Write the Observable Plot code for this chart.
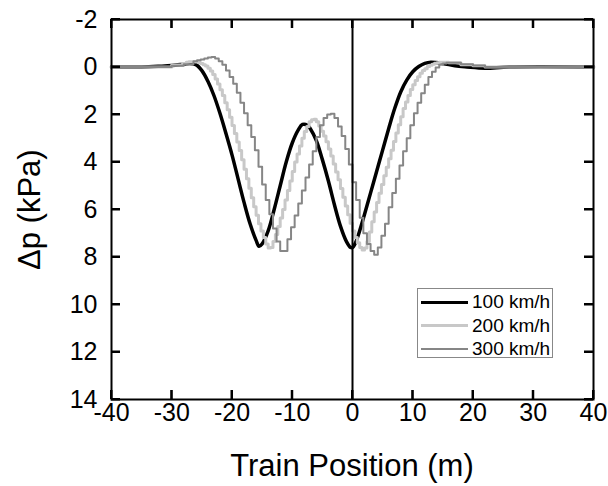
<!DOCTYPE html>
<html>
<head>
<meta charset="utf-8">
<script src="https://cdn.jsdelivr.net/npm/d3@7"></script>
<script src="https://cdn.jsdelivr.net/npm/@observablehq/plot@0.6"></script>
<style>
  html, body { margin: 0; padding: 0; background: #fff; }
  #wrap { position: relative; width: 608px; height: 486px; font-family: "Liberation Sans", Arial, sans-serif; }
  #wrap > svg { position: absolute; left: 0; top: 0; }
  .xtitle { position: absolute; left: 111px; width: 482px; top: 448px; text-align: center; font-size: 31px; line-height: 36px; color: #000; }
  .ytitle { position: absolute; left: -30px; width: 120px; top: 192px; height: 36px; transform: rotate(-90deg); text-align: center; font-size: 31px; line-height: 36px; white-space: nowrap; color: #000; }
  .legend { position: absolute; left: 417px; top: 288px; width: 136px; height: 70px; border: 1px solid #888; background: #fff; box-sizing: border-box; }
  .legend .row { position: absolute; left: 3px; height: 22px; display: flex; align-items: center; }
  .legend .sw { width: 47px; margin-right: 4px; }
  .legend .lab { font-size: 19px; line-height: 22px; color: #000; }
</style>
</head>
<body>
<div id="wrap"></div>
<script>
const xDomain = [-40, 40];
const yDomain = [-2, 14];
const xTicks = [-40, -30, -20, -10, 0, 10, 20, 30, 40];
const yTicks = [-2, 0, 2, 4, 6, 8, 10, 12, 14];
const seriesNames = ["100 km/h", "200 km/h", "300 km/h"];
const seriesColors = ["#000000", "#c8c8c8", "#868686"];
const seriesWidths = [3.5, 3, 2];
const xLabel = "Train Position (m)";
const yLabel = "Δp (kPa)";
const trainAt = [0];

const pts100 = [[-40,0],[-35,0],[-32,-0.03],[-30,-0.06],[-28,-0.12],[-27,-0.15],[-26,-0.1],[-25,0.15],[-24,0.6],[-23,1.2],[-22,1.95],[-21,2.8],[-20,3.7],[-19,4.7],[-18,5.7],[-17,6.6],[-16,7.3],[-15.5,7.55],[-15,7.45],[-14,6.9],[-13,6.0],[-12,5.0],[-11,4.0],[-10,3.2],[-9,2.65],[-8.3,2.42],[-7.5,2.45],[-7,2.6],[-6,3.1],[-5,3.9],[-4,4.8],[-3,5.8],[-2,6.7],[-1,7.35],[-0.3,7.6],[0,7.6],[0.5,7.4],[1,7.05],[2,6.2],[3,5.3],[4,4.4],[5,3.5],[6,2.6],[7,1.75],[8,1.05],[9,0.55],[10,0.2],[11,-0.02],[12,-0.15],[13,-0.2],[15,-0.15],[17,-0.05],[19,0],[22,0.05],[26,0],[40,0]];

const pts200 = [[-40,0],[-33,0],[-30,-0.08],[-28.2,-0.15],[-27.6,-0.2],[-27.2,-0.22],[-26.8,-0.22],[-26.4,-0.22],[-26.0,-0.21],[-25.6,-0.19],[-25.2,-0.15],[-24.8,-0.1],[-24.4,-0.04],[-24.0,0.05],[-23.6,0.17],[-23.2,0.32],[-22.8,0.5],[-22.4,0.72],[-22.0,0.96],[-21.6,1.2],[-21.2,1.5],[-20.8,1.8],[-20.4,2.12],[-20.0,2.46],[-19.6,2.8],[-19.2,3.16],[-18.8,3.52],[-18.4,3.9],[-18.0,4.3],[-17.6,4.7],[-17.2,5.1],[-16.8,5.5],[-16.4,5.88],[-16.0,6.24],[-15.6,6.6],[-15.2,6.9],[-14.8,7.18],[-14.4,7.45],[-14.0,7.62],[-13.6,7.6],[-13.2,7.35],[-12.8,7.05],[-12.4,6.72],[-12.0,6.36],[-11.6,6.0],[-11.2,5.6],[-10.8,5.2],[-10.4,4.8],[-10.0,4.4],[-9.6,4.0],[-9.2,3.66],[-8.8,3.33],[-8.4,3.0],[-8.0,2.72],[-7.6,2.5],[-7.2,2.3],[-6.8,2.22],[-6.4,2.2],[-6.0,2.3],[-5.6,2.48],[-5.2,2.7],[-4.8,2.9],[-4.4,3.15],[-4.0,3.45],[-3.6,3.75],[-3.2,4.08],[-2.8,4.42],[-2.4,4.75],[-2.0,5.12],[-1.6,5.48],[-1.2,5.85],[-0.8,6.22],[-0.4,6.58],[0.0,6.9],[0.4,7.18],[0.8,7.4],[1.2,7.6],[1.6,7.7],[2.0,7.62],[2.4,7.35],[2.8,6.95],[3.2,6.52],[3.6,6.1],[4.0,5.7],[4.4,5.32],[4.8,4.95],[5.2,4.58],[5.6,4.22],[6.0,3.86],[6.4,3.5],[6.8,3.14],[7.2,2.78],[7.6,2.43],[8.0,2.09],[8.4,1.75],[8.8,1.47],[9.2,1.2],[9.6,0.95],[10.0,0.75],[10.4,0.57],[10.8,0.41],[11.2,0.26],[11.6,0.15],[12.0,0.07],[12.4,-0.02],[12.8,-0.07],[13.2,-0.12],[13.6,-0.16],[14.0,-0.18],[14.4,-0.2],[16,-0.18],[18,-0.1],[20,-0.05],[22,0],[40,0]];

const pts300 = [[-40,0],[-33,0],[-30,-0.05],[-28,-0.12],[-26.4,-0.24],[-25.8,-0.28],[-25.2,-0.32],[-24.6,-0.36],[-24.0,-0.4],[-23.4,-0.42],[-22.8,-0.36],[-22.2,-0.24],[-21.6,-0.1],[-21.0,0.15],[-20.4,0.42],[-19.8,0.7],[-19.2,1.08],[-18.6,1.5],[-18.0,1.95],[-17.4,2.45],[-16.8,2.95],[-16.2,3.5],[-15.6,4.2],[-15.0,4.95],[-14.4,5.6],[-13.8,6.2],[-13.2,6.8],[-12.6,7.35],[-12.0,7.75],[-11.4,7.75],[-10.8,7.25],[-10.2,6.75],[-9.6,6.25],[-9.0,5.75],[-8.4,5.2],[-7.8,4.65],[-7.2,4.1],[-6.6,3.55],[-6.0,2.95],[-5.4,2.45],[-4.8,2.15],[-4.2,2.0],[-3.6,1.97],[-3.0,2.15],[-2.4,2.5],[-1.8,2.9],[-1.2,3.45],[-0.6,4.1],[0.0,4.85],[0.6,5.6],[1.2,6.35],[1.8,7.0],[2.4,7.45],[3.0,7.75],[3.6,7.9],[4.2,7.6],[4.8,7.1],[5.4,6.6],[6.0,5.9],[6.6,5.3],[7.2,4.7],[7.8,4.15],[8.4,3.55],[9.0,3.0],[9.6,2.45],[10.2,1.95],[10.8,1.5],[11.4,1.1],[12.0,0.75],[12.6,0.42],[13.2,0.2],[13.8,0.02],[14.4,-0.1],[15.0,-0.15],[15.6,-0.18],[16.2,-0.18],[18,-0.12],[20,-0.06],[22,0],[40,0]];

const toRows = pts => pts.map(([x, y]) => ({x, y}));
const d100 = toRows(pts100), d200 = toRows(pts200), d300 = toRows(pts300);

const W = 608, H = 486, mL = 111, mR = 15, mT = 19, mB = 87;
const tickLen = 9;
const innerW = W - mL - mR, innerH = H - mT - mB;
const ty = (yDomain[1] - yDomain[0]) * tickLen / innerH;
const tx = (xDomain[1] - xDomain[0]) * tickLen / innerW;

const chart = Plot.plot({
  width: W,
  height: H,
  marginLeft: mL,
  marginRight: mR,
  marginTop: mT,
  marginBottom: mB,
  style: {fontFamily: "Liberation Sans, Arial, sans-serif"},
  x: {domain: xDomain},
  y: {domain: yDomain, reverse: true},
  marks: [
    Plot.line(d100, {x: "x", y: "y", stroke: seriesColors[0], strokeWidth: seriesWidths[0], curve: "catmull-rom"}),
    Plot.line(d200, {x: "x", y: "y", stroke: seriesColors[1], strokeWidth: seriesWidths[1], curve: "step-after"}),
    Plot.line(d300, {x: "x", y: "y", stroke: seriesColors[2], strokeWidth: seriesWidths[2], curve: "step-after"}),
    Plot.ruleX(trainAt, {stroke: "#000", strokeWidth: 2}),
    Plot.axisX({anchor: "bottom", ticks: xTicks, tickSize: 0, tickPadding: 4, fontSize: 25, label: null, tickFormat: d => String(d)}),
    Plot.axisY({anchor: "left", ticks: yTicks, tickSize: 0, tickPadding: 14, fontSize: 25, label: null, tickFormat: d => String(d)}),
    Plot.frame({stroke: "#000", strokeWidth: 2}),
    Plot.ruleX(xTicks, {x: d => d, y1: yDomain[1] - ty, y2: yDomain[1], stroke: "#000", strokeWidth: 2}),
    Plot.ruleX(xTicks, {x: d => d, y1: yDomain[0], y2: yDomain[0] + ty, stroke: "#000", strokeWidth: 2}),
    Plot.ruleY(yTicks, {y: d => d, x1: xDomain[0], x2: xDomain[0] + tx, stroke: "#000", strokeWidth: 2}),
    Plot.ruleY(yTicks, {y: d => d, x1: xDomain[1] - tx, x2: xDomain[1], stroke: "#000", strokeWidth: 2})
  ]
});

const wrap = document.getElementById("wrap");
wrap.appendChild(chart);

// Reinforce the inward ticks using Plot's own scales
try {
  const sx = chart.scale("x"), sy = chart.scale("y");
  const g = d3.select(chart).append("g").attr("stroke", "#000").attr("stroke-width", 2);
  const top = sy.apply(yDomain[0]), bottom = sy.apply(yDomain[1]);
  const left = sx.apply(xDomain[0]), right = sx.apply(xDomain[1]);
  xTicks.forEach(v => {
    const px = sx.apply(v);
    g.append("line").attr("x1", px).attr("x2", px).attr("y1", bottom).attr("y2", bottom - tickLen);
    g.append("line").attr("x1", px).attr("x2", px).attr("y1", top).attr("y2", top + tickLen);
  });
  yTicks.forEach(v => {
    const py = sy.apply(v);
    g.append("line").attr("y1", py).attr("y2", py).attr("x1", left).attr("x2", left + tickLen);
    g.append("line").attr("y1", py).attr("y2", py).attr("x1", right).attr("x2", right - tickLen);
  });
} catch (e) {}

const xt = document.createElement("div");
xt.className = "xtitle"; xt.textContent = xLabel; wrap.appendChild(xt);
const yt = document.createElement("div");
yt.className = "ytitle"; yt.textContent = yLabel; wrap.appendChild(yt);

const leg = document.createElement("div");
leg.className = "legend";
seriesNames.forEach((name, i) => {
  const row = document.createElement("div");
  row.className = "row";
  row.style.top = (2 + i * 23.5) + "px";
  const sw = document.createElement("div");
  sw.className = "sw";
  sw.style.borderTop = Math.min(seriesWidths[i], 3) + "px solid " + seriesColors[i];
  const lab = document.createElement("span");
  lab.className = "lab"; lab.textContent = name;
  row.appendChild(sw); row.appendChild(lab);
  leg.appendChild(row);
});
wrap.appendChild(leg);
</script>
</body>
</html>
